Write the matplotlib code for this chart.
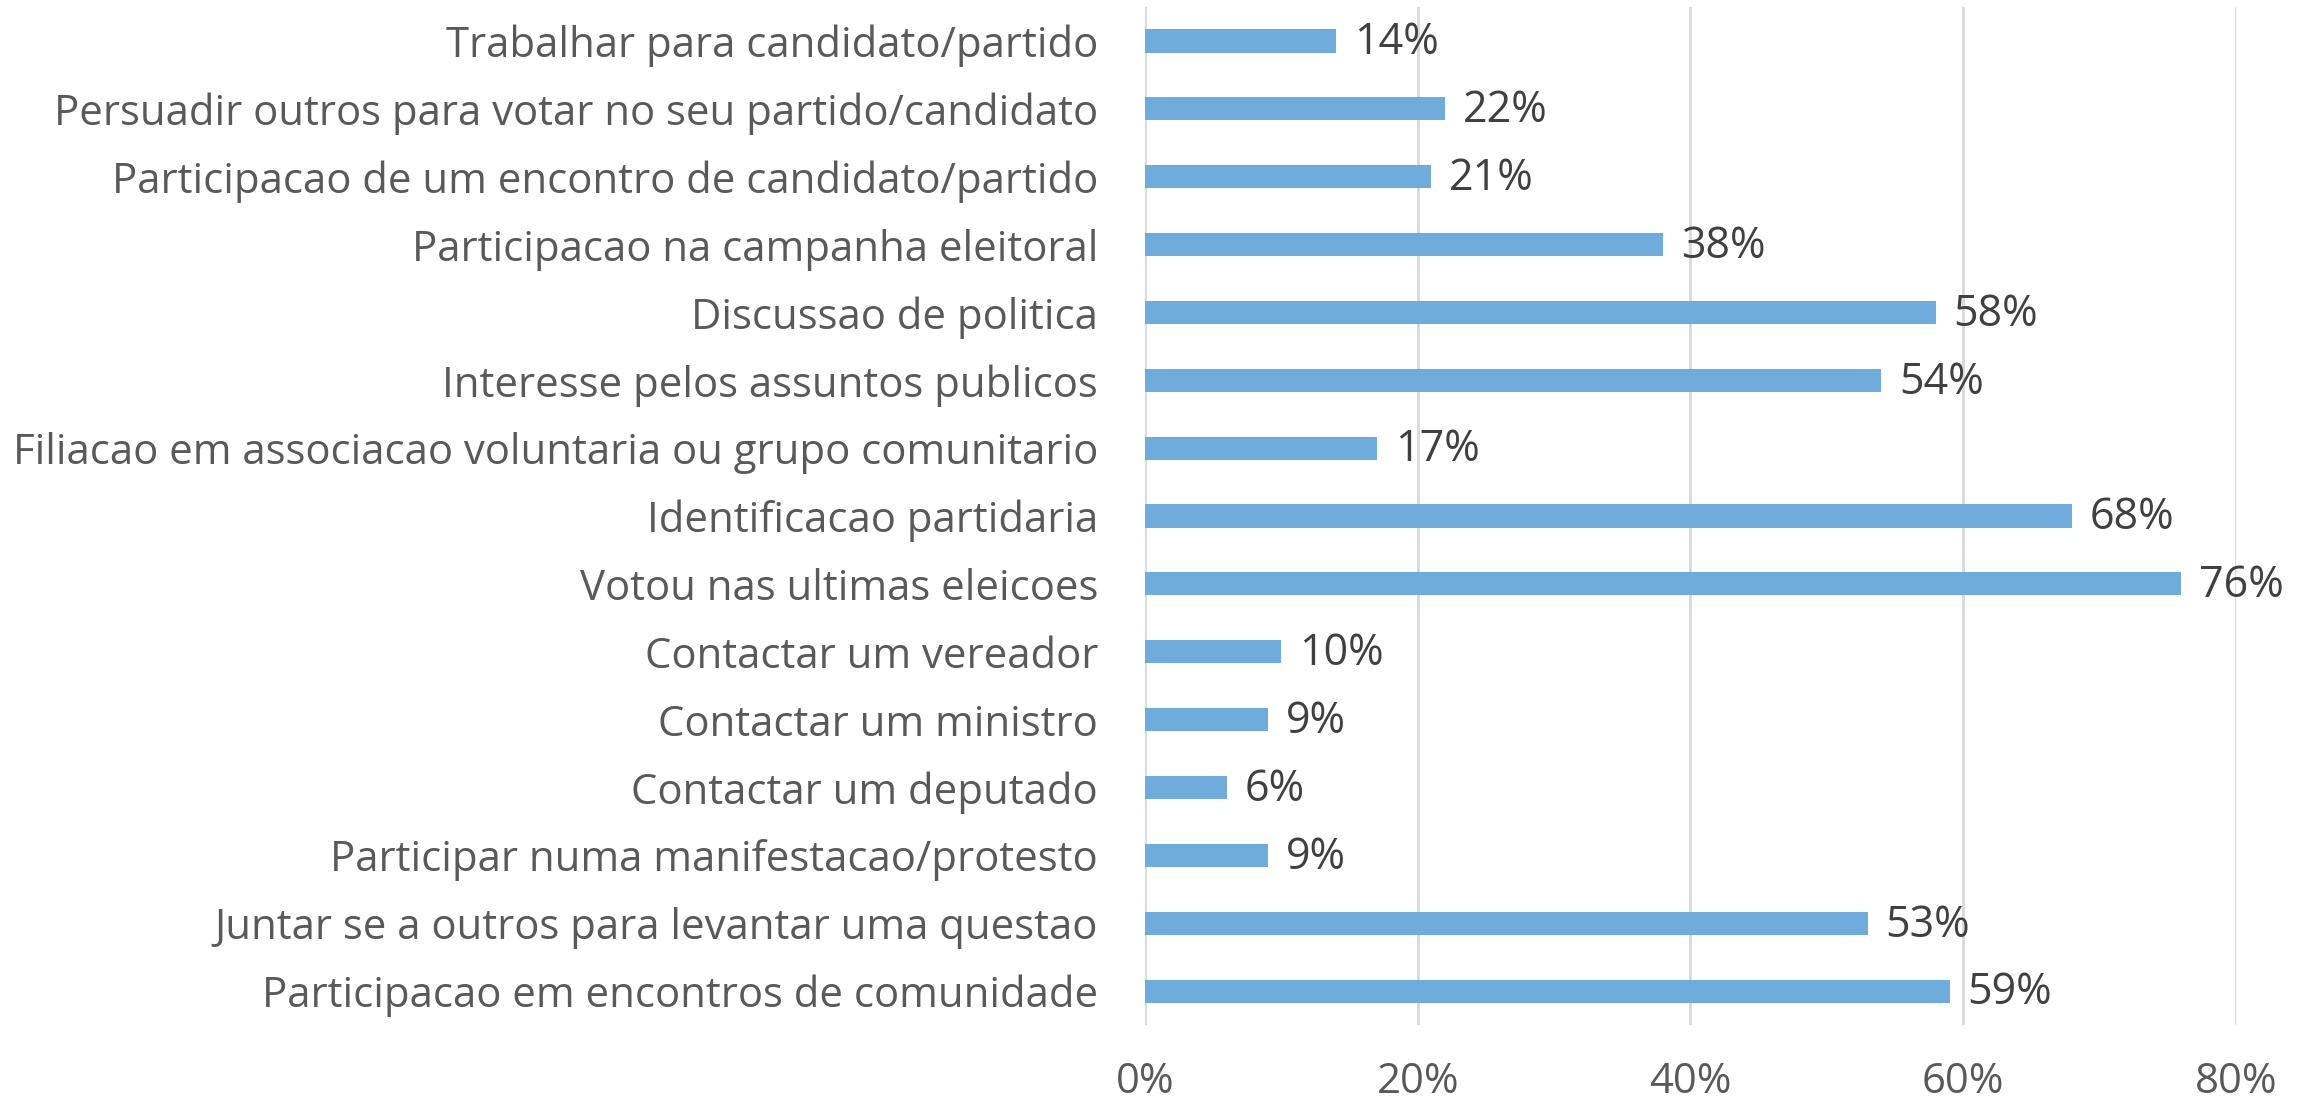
import matplotlib.pyplot as plt
from matplotlib.ticker import PercentFormatter

# categories from top to bottom, as in the picture
categories = [
    "Trabalhar para candidato/partido",
    "Persuadir outros para votar no seu partido/candidato",
    "Participacao de um encontro de candidato/partido",
    "Participacao na campanha eleitoral",
    "Discussao de politica",
    "Interesse pelos assuntos publicos",
    "Filiacao em associacao voluntaria ou grupo comunitario",
    "Identificacao partidaria",
    "Votou nas ultimas eleicoes",
    "Contactar um vereador",
    "Contactar um ministro",
    "Contactar um deputado",
    "Participar numa manifestacao/protesto",
    "Juntar se a outros para levantar uma questao",
    "Participacao em encontros de comunidade",
]
values = [0.14, 0.22, 0.21, 0.38, 0.58, 0.54, 0.17, 0.68, 0.76, 0.10, 0.09, 0.06, 0.09, 0.53, 0.59]
xticks = [0, 0.2, 0.4, 0.6, 0.8]

plt.rcParams['font.family'] = ['Open Sans', 'DejaVu Sans']

fig = plt.figure(figsize=(23.11, 10.99), dpi=100)
ax = fig.add_axes([0.4955, 0.0673, 0.472, 0.9263])

pos = list(range(len(categories)))
ax.barh(pos, values, height=0.34, color='#6FACDC', zorder=3)

for p, v in zip(pos, values):
    ax.text(v + 0.013, p + 0.03, '%d%%' % round(v * 100), va='center', ha='left',
            fontsize=31, color='#404040', zorder=4)

ax.set_yticks(pos)
ax.set_yticklabels(categories)
ax.set_ylim(len(categories) - 0.5, -0.5)
ax.set_xlim(0, 0.8)
ax.set_xticks(xticks)
ax.xaxis.set_major_formatter(PercentFormatter(1.0, decimals=0))

ax.grid(axis='x', color='#D9D9D9', linewidth=2, zorder=0)
for s in ax.spines.values():
    s.set_visible(False)
ax.tick_params(axis='both', length=0, labelsize=30.2, labelcolor='#595959')
ax.tick_params(axis='y', pad=34)
ax.tick_params(axis='x', pad=26)

fig.savefig('out.png', dpi=100, facecolor='white')
